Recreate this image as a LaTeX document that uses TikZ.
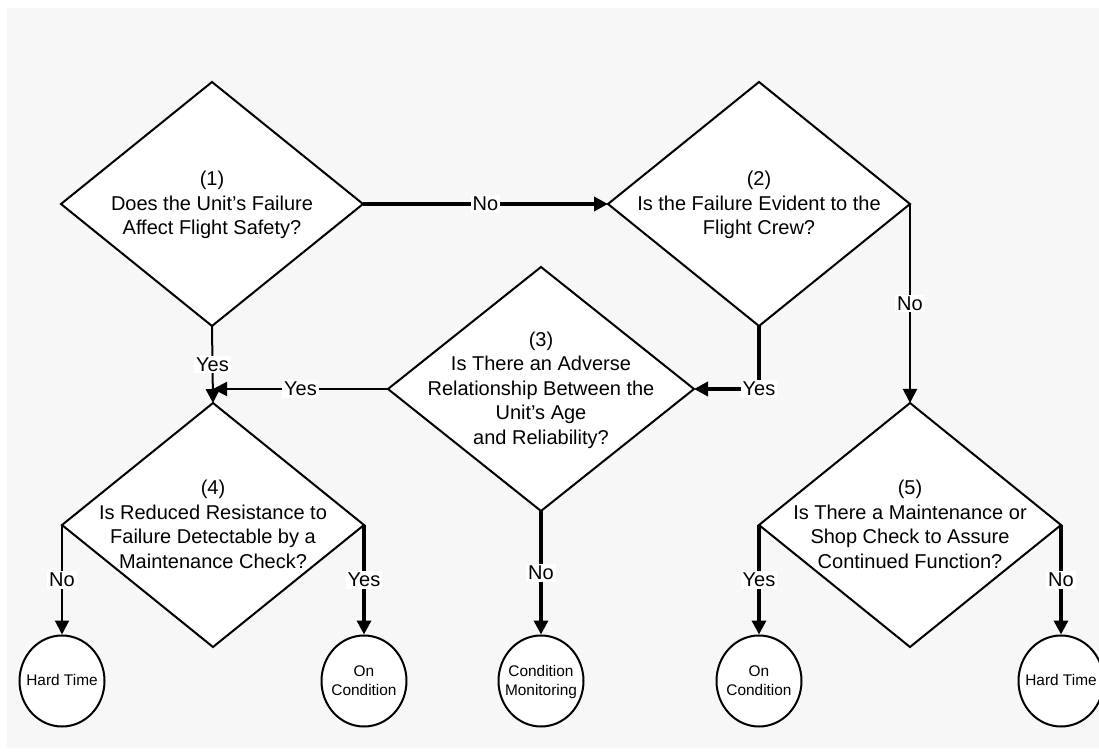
\documentclass[tikz,border=0pt]{standalone}
\usepackage{fontspec}
\setmainfont{Liberation Sans}
\usetikzlibrary{shapes.geometric,arrows.meta}
\definecolor{pagegray}{HTML}{F7F7F7}
% text that does not widen its node
\newcommand{\flatbox}[2][3.2pt]{\smash{\raisebox{-#1}{\makebox[0pt]{\begin{tabular}{@{}c@{}}#2\end{tabular}}}}}
\tikzset{
>={Triangle[length=7pt,width=7pt]},
  question/.style={
    diamond,
    fill=white,
    draw=black, line width=1pt,
    inner sep=0pt, outer sep=0pt,
    minimum width=151pt,
    minimum height=122pt,
    font=\fontsize{10}{12.3}\selectfont},
  result/.style={
    ellipse,
    fill=white,
    draw=black, line width=1pt,
    inner sep=0pt,
    minimum width=42.5pt,
    minimum height=45.5pt,
    font=\fontsize{7.7}{9.3}\selectfont},
  line/.style={draw, line width=1pt, ->},
  heavyline/.style={draw, line width=2pt, ->},
  answer/.style={fill=white, inner sep=1pt, font=\fontsize{10}{12}\selectfont},
}
\begin{document}
\begin{tikzpicture}[x=0.5pt,y=-0.5pt]
\useasboundingbox (0,0) rectangle (1099,754);
\fill[white] (0,0) rectangle (1099,754);
\fill[pagegray] (7,8) rectangle (1099,748);

% questions
\node[question] (Safety) at (212,204) {\flatbox{(1)\\Does the Unit's Failure\\Affect Flight Safety?}};
\node[question] (Evident) at (759,204) {\flatbox{(2)\\Is the Failure Evident to the\\Flight Crew?}};
\node[question, minimum width=153pt] (Adverse) at (541,389) {\flatbox{(3)\\Is There an Adverse\\Relationship Between the\\Unit's Age\\and Reliability?}};
\node[question] (Resistance) at (213,525) {\flatbox{(4)\\Is Reduced Resistance to\\Failure Detectable by a\\Maintenance Check?}};
\node[question] (Check) at (910,525) {\flatbox{(5)\\Is There a Maintenance or\\Shop Check to Assure\\Continued Function?}};

% outcomes
\node[result] (HardTimeA) at (62,681) {\flatbox[2.5pt]{Hard Time}};
\node[result] (OnCondA) at (364,681) {\flatbox[2.5pt]{On\\Condition}};
\node[result] (CondMon) at (541,681) {\flatbox[2.5pt]{Condition\\Monitoring}};
\node[result] (OnCondB) at (759,681) {\flatbox[2.5pt]{On\\Condition}};
\node[result] (HardTimeB) at (1061,681) {\flatbox[2.5pt]{Hard Time}};

\draw[heavyline] (Safety.east) -- node[answer] {No} (Evident.west);
\draw[line] (Evident.east) -- node[answer] {No} (Check.north);
\draw[heavyline] (Evident.south) |- node[answer] {Yes} (Adverse.east);
\draw[line] (Adverse.west) -- node[answer] {Yes} (Adverse.west -| Resistance.north);
\draw[line] (Safety.south) -- node[answer] {Yes} (Resistance.north);
\draw[line] (Resistance.west) -- node[answer] {No} (HardTimeA.north);
\draw[heavyline] (Resistance.east) -- node[answer] {Yes} (OnCondA.north);
\draw[heavyline] (Adverse.south) -- node[answer] {No} (CondMon.north);
\draw[heavyline] (Check.west) -- node[answer] {Yes} (OnCondB.north);
\draw[heavyline] (Check.east) -- node[answer] {No} (HardTimeB.north);
\end{tikzpicture}
\end{document}
